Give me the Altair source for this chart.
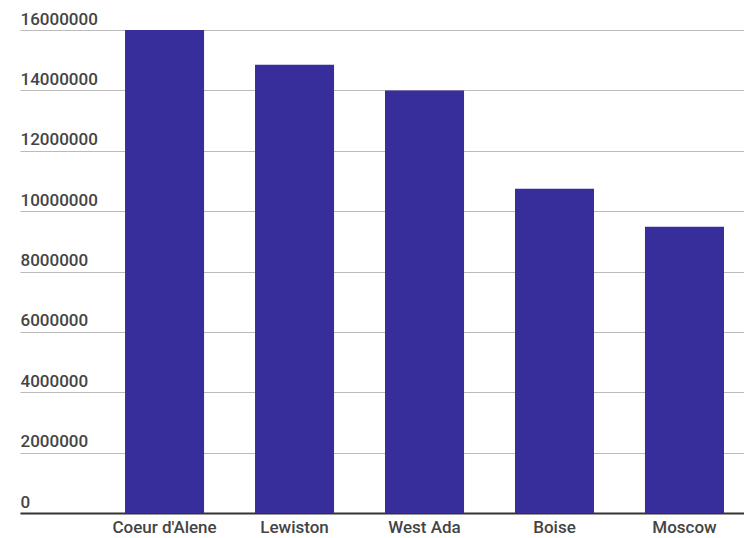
import altair as alt
import pandas as pd

districts = ["Coeur d'Alene", "Lewiston", "West Ada", "Boise", "Moscow"]
amounts = [16000000, 14850000, 14000000, 10740000, 9480000]
y_ticks = [0, 2000000, 4000000, 6000000, 8000000, 10000000, 12000000, 14000000, 16000000]

df = pd.DataFrame({"district": districts, "amount": amounts})

FONT = "Roboto"

chart = (
    alt.Chart(df)
    .mark_bar(color="#372d9b")
    .encode(
        x=alt.X(
            "district:N",
            sort=districts,
            title=None,
            scale=alt.Scale(paddingInner=0.392, paddingOuter=0.481, align=0.84),
            axis=alt.Axis(
                labelAngle=0,
                ticks=False,
                domain=True,
                domainColor="#333333",
                domainWidth=2,
                labelPadding=6,
                labelFont=FONT,
                labelFontSize=17,
                labelFontWeight=500,
                labelColor="#444444",
                grid=False,
            ),
        ),
        y=alt.Y(
            "amount:Q",
            title=None,
            scale=alt.Scale(domain=[0, 16000000], nice=False),
            axis=alt.Axis(
                values=y_ticks,
                format="d",
                ticks=False,
                domain=False,
                grid=True,
                gridColor="#bbbbbb",
                gridWidth=1,
                labelAlign="left",
                labelBaseline="alphabetic",
                labelPadding=0,
                labelOffset=-6,
                labelFont=FONT,
                labelFontSize=17,
                labelFontWeight=500,
                labelColor="#444444",
            ),
        ),
    )
    .properties(
        width=724,
        height=483,
        autosize=alt.AutoSizeParams(type="none"),
        padding={"left": 20, "top": 30, "right": 0, "bottom": 25},
    )
    .configure_view(stroke=None)
)

chart.save("out.html", embed_options={"renderer": "svg", "actions": False})
